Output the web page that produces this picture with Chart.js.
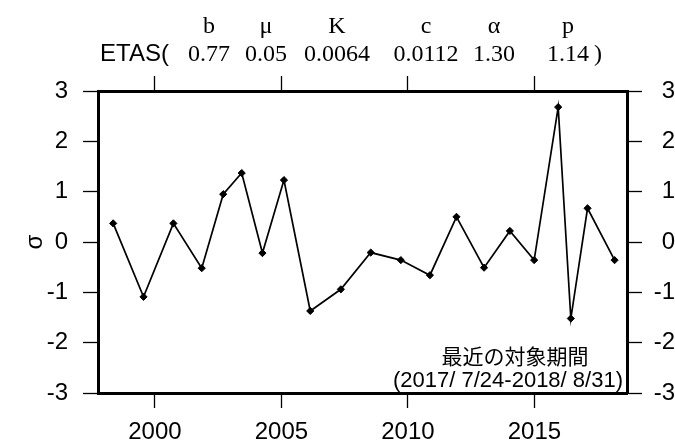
<!DOCTYPE html>
<html>
<head>
<meta charset="utf-8">
<script src="https://cdn.jsdelivr.net/npm/chart.js@4"></script>
<style>
  html, body { margin: 0; padding: 0; background: #fff; }
  #wrap { width: 675px; height: 446px; position: relative; }
</style>
</head>
<body>
<div id="wrap"><canvas id="c" width="675" height="446"></canvas></div>
<script>
// ---- data ----
const periodMid = [1998.35, 1999.55, 2000.73, 2001.85, 2002.70, 2003.43, 2004.25, 2005.10, 2006.14, 2007.35, 2008.53, 2009.72, 2010.87, 2011.92, 2013.01, 2014.03, 2014.99, 2015.94, 2016.44, 2017.10, 2018.17];
const sigmaValues = [0.37, -1.09, 0.37, -0.52, 0.95, 1.37, -0.22, 1.23, -1.37, -0.94, -0.21, -0.36, -0.66, 0.50, -0.51, 0.22, -0.36, 2.68, -1.52, 0.67, -0.36];
const xTicks = [2000, 2005, 2010, 2015];
const yTicks = [-3, -2, -1, 0, 1, 2, 3];
const yTickLabels = ['-3', '-2', '-1', '0', '1', '2', '3'];
const xRange = [1997.75, 2018.66];
const yRange = [-3, 3];
const paramNames = ['b', 'μ', 'K', 'c', 'α', 'p'];
const paramValues = ['0.77', '0.05', '0.0064', '0.0112', '1.30', '1.14'];
const yTitle = 'σ';
const noteLines = ['最近の対象期間', '(2017/ 7/24-2018/ 8/31)'];

// ---- layout helpers (styles/positions) ----
const SANS = "'Liberation Sans', Arial, sans-serif";
const SERIF = "'Liberation Serif', 'Times New Roman', serif";
const CJK = "'Noto Sans CJK JP', 'Noto Sans', sans-serif";
const paramCenters = [209, 266, 337, 426, 494, 568];

Chart.defaults.font.family = SANS;
Chart.defaults.color = '#000';

const setTicks = (vals) => (axis) => { axis.ticks = vals.map(v => ({ value: v })); };
const yLabel = (v) => { const i = yTicks.indexOf(v); return i >= 0 ? yTickLabels[i] : ''; };

const baseGrid = {
  drawOnChartArea: false,
  drawTicks: true,
  tickLength: 15,
  tickWidth: 1.3,
  tickColor: '#000',
  color: '#000'
};
const baseBorder = { display: true, color: '#000', width: 3 };

const textPlugin = {
  id: 'texts',
  afterDraw(chart) {
    const ctx = chart.ctx;
    ctx.save();
    ctx.fillStyle = '#000';
    ctx.textBaseline = 'alphabetic';
    // header row 1: parameter names
    ctx.font = '24px ' + SERIF;
    ctx.textAlign = 'center';
    paramNames.forEach((n, i) => ctx.fillText(n, paramCenters[i], 33));
    // header row 2
    ctx.font = '24px ' + SANS;
    ctx.textAlign = 'left';
    ctx.fillText('ETAS(', 100, 61);
    ctx.font = '24px ' + SERIF;
    ctx.textAlign = 'center';
    paramValues.forEach((v, i) => ctx.fillText(v, paramCenters[i], 61));
    ctx.textAlign = 'left';
    ctx.fillText(')', 594, 61);
    // note
    ctx.textAlign = 'center';
    ctx.font = '21px ' + CJK;
    ctx.fillText(noteLines[0], 515, 364);
    ctx.font = '22px ' + SANS;
    ctx.fillText(noteLines[1], 508, 387);
    ctx.restore();
  }
};

new Chart(document.getElementById('c'), {
  type: 'line',
  data: {
    datasets: [{
      data: periodMid.map((x, i) => ({ x, y: sigmaValues[i] })),
      borderColor: '#000',
      backgroundColor: '#000',
      borderWidth: 1.7,
      tension: 0,
      pointStyle: 'rectRot',
      pointRadius: 3.6,
      pointBackgroundColor: '#000',
      pointBorderColor: '#000',
      pointBorderWidth: 1,
      clip: false
    }]
  },
  options: {
    responsive: false,
    animation: false,
    devicePixelRatio: 1,
    layout: { padding: 0 },
    plugins: { legend: { display: false }, tooltip: { enabled: false } },
    scales: {
      x: {
        type: 'linear', position: 'bottom', min: xRange[0], max: xRange[1],
        afterBuildTicks: setTicks(xTicks),
        afterFit: (a) => { a.height = 53; },
        grid: baseGrid, border: baseBorder,
        ticks: { font: { size: 24 }, padding: 10, maxRotation: 0, callback: (v) => String(v) }
      },
      x2: {
        type: 'linear', position: 'top', min: xRange[0], max: xRange[1],
        afterBuildTicks: setTicks(xTicks),
        afterFit: (a) => { a.height = 91; },
        grid: baseGrid, border: baseBorder,
        ticks: { display: false }
      },
      y: {
        type: 'linear', position: 'left', min: yRange[0], max: yRange[1],
        afterBuildTicks: setTicks(yTicks),
        afterFit: (a) => { a.width = 98; },
        grid: baseGrid, border: baseBorder,
        ticks: { font: { size: 24 }, padding: 15, callback: yLabel },
        title: { display: true, text: yTitle, font: { size: 24 }, padding: { top: 21, bottom: 0 } }
      },
      y2: {
        type: 'linear', position: 'right', min: yRange[0], max: yRange[1],
        afterBuildTicks: setTicks(yTicks),
        afterFit: (a) => { a.width = 48; },
        grid: baseGrid, border: baseBorder,
        ticks: { font: { size: 24 }, padding: 17, crossAlign: 'far', callback: yLabel }
      }
    }
  },
  plugins: [textPlugin]
});
</script>
</body>
</html>
